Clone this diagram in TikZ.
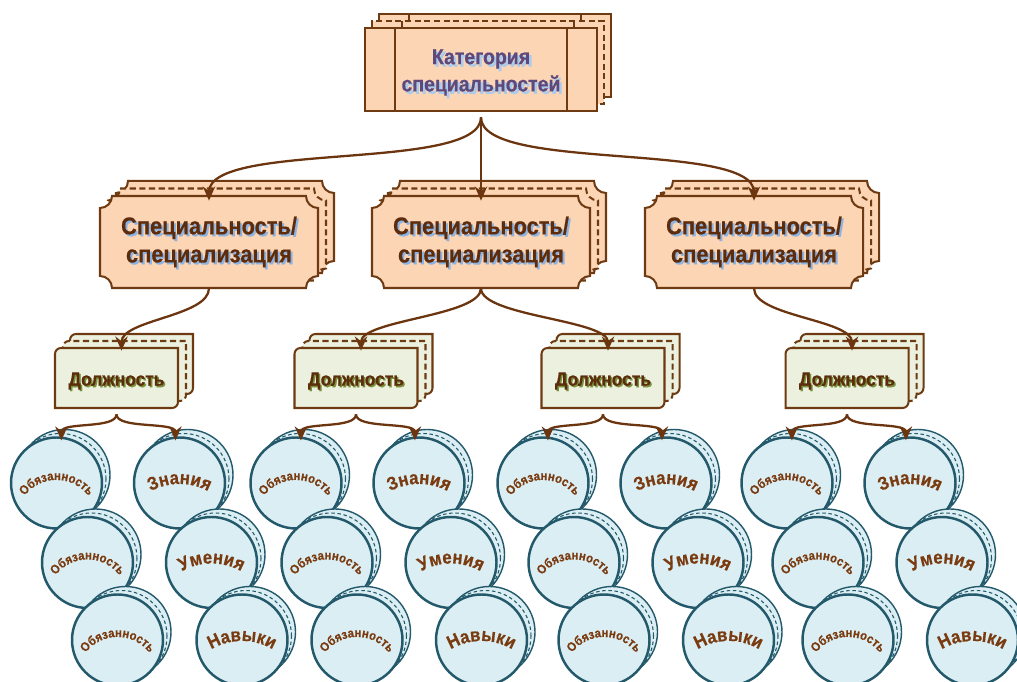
\documentclass[tikz,border=0pt]{standalone}
\usepackage{fontspec}
\setmainfont{Liberation Sans}
\newfontfamily\plaquefont[FakeStretch=0.9,FakeBold=0.4]{Liberation Sans}
\usetikzlibrary{arrows.meta,decorations.text}

\definecolor{rimbrown}{HTML}{6E3A12}
\definecolor{linkbrown}{HTML}{6B3510}
\definecolor{peach}{HTML}{FCD5B5}
\definecolor{sage}{HTML}{EBF1DE}
\definecolor{aqua}{HTML}{DAEEF3}
\definecolor{discrim}{HTML}{23596A}
\definecolor{inkbrown}{HTML}{5C2C0C}
\definecolor{shadeblue}{HTML}{8DB3E2}
\definecolor{inkpurple}{HTML}{5F497A}
\definecolor{shadecyan}{HTML}{A9CBEE}
\definecolor{shadegreen}{HTML}{77933C}
\definecolor{discink}{HTML}{7A3B10}

% category page: frame with two inner bars
\newcommand{\catpage}[3]{%
  \draw[#3] ({#1-116},{#2-41.5}) rectangle ({#1+116},{#2+41.5})
    ({#1-86},{#2-41.5}) -- ({#1-86},{#2+41.5})
    ({#1+86},{#2-41.5}) -- ({#1+86},{#2+41.5});}
% plaque with concave corners
\newcommand{\plaque}[3]{%
  \draw[#3] ({#1-97},{#2+46}) -- ({#1+97},{#2+46})
    arc[start angle=180,end angle=270,radius=12] -- ({#1+109},{#2-34})
    arc[start angle=90,end angle=180,radius=12] -- ({#1-97},{#2-46})
    arc[start angle=0,end angle=90,radius=12] -- ({#1-109},{#2+34})
    arc[start angle=270,end angle=360,radius=12] -- cycle;}
% card with two rounded corners
\newcommand{\jobcard}[3]{%
  \draw[#3] ({#1-61.5},{#2-30}) -- ({#1-61.5},{#2+24})
    arc[start angle=180,end angle=90,radius=6] -- ({#1+61.5},{#2+30})
    -- ({#1+61.5},{#2-24})
    arc[start angle=0,end angle=-90,radius=6] -- cycle;}
% the two pages behind a disc
\newcommand{\discback}[2]{%
  \draw[discrim,line width=0.8pt,fill=aqua] ({#1+8},{#2+8}) circle[radius=45.5];
  \draw[discrim,line width=0.6pt,fill=aqua,dash pattern=on 2pt off 1.5pt] ({#1+4},{#2+4}) circle[radius=45.5];}
% text bent over an arc
\newcommand{\arclabel}[5]{%
  \path[decorate,decoration={text along path,text align=center,text={#5}}]
    ({#1+#3*cos(90+#4)},{#2-#3+#3*sin(90+#4)}) arc[start angle={90+#4},end angle={90-#4},radius=#3];}
\newcommand{\dutyfont}{\plaquefont\bfseries\fontsize{7.2}{8}\selectfont\color{discink}}
\newcommand{\skillfont}{\plaquefont\bfseries\fontsize{10.6}{12}\selectfont\color{discink}}
\newcommand{\dutydisc}[3]{%
  \discback{#1}{#2}
  \node[disc] (#3) at ({#1},{#2}) {};
  \arclabel{#1}{#2+3}{40}{62}{|\dutyfont|Обязанность}}
\newcommand{\skilldisc}[4]{%
  \discback{#1}{#2}
  \node[disc] (#3) at ({#1},{#2}) {};
  \arclabel{#1}{#2-1}{60}{45}{|\skillfont|#4}}

\begin{document}
\begin{tikzpicture}[x=0.02cm,y=0.02cm]
  \tikzset{
    link/.style={draw=linkbrown,line width=1.3pt,-{Stealth[length=8pt,width=7pt]}},
    pageback/.style={draw=rimbrown,line width=1.15pt,fill=peach},
    pagedash/.style={pageback,dash pattern=on 3.5pt off 2pt},
    jobback/.style={draw=rimbrown,line width=1.15pt,fill=sage},
    jobdash/.style={jobback,dash pattern=on 3.5pt off 2pt},
    cattext/.style={align=center,inner sep=0pt,minimum width=4.64cm,minimum height=1.66cm,
      font=\plaquefont\bfseries\fontsize{12.3}{15.5}\selectfont},
    spectext/.style={align=center,inner sep=0pt,minimum width=4.36cm,minimum height=1.84cm,
      font=\plaquefont\bfseries\fontsize{13.8}{16}\selectfont},
    jobtext/.style={inner sep=0pt,minimum width=2.46cm,minimum height=1.2cm,
      font=\plaquefont\bfseries\fontsize{11}{12}\selectfont},
    disc/.style={circle,draw=discrim,line width=1.4pt,fill=aqua,minimum size=1.82cm,inner sep=0pt}
  }
  \useasboundingbox (0,0) rectangle (1017,682);
  \clip (0,0) rectangle (1017,682);

  % top: category
  \catpage{495}{626.5}{pageback}
  \catpage{488}{619.5}{pagedash}
  \catpage{481}{612.5}{pageback}
  \node[cattext,text=shadecyan] (cats) at (483.5,607) {Категория\\специальностей};
  \node[cattext,text=inkpurple] (cat) at (481,609.5) {Категория\\специальностей};

  % specialities
  \foreach \x/\n in {209/1,481/2,754/3}{
    \plaque{\x+16}{455}{pageback}
    \plaque{\x+8}{447.5}{pagedash}
    \plaque{\x}{440}{pageback}
    \node[spectext,text=shadeblue] (spec\n s) at (\x+2,438) {Специальность/\\специализация};
    \node[spectext,text=inkbrown] (spec\n) at (\x,440) {Специальность/\\специализация};
  }

  % posts
  \foreach \x/\n in {116.5/1,356/2,603/3,847/4}{
    \jobcard{\x+15}{318}{jobback}
    \jobcard{\x+8}{311}{jobdash}
    \jobcard{\x}{304}{jobback}
    \node[jobtext,text=shadegreen] (job\n s) at (\x+1.5,299.5) {Должность};
    \node[jobtext,text=inkbrown] (job\n) at (\x,301) {Должность};
  }

  % discs under every post
  \foreach \c/\g in {116.5/1,356/2,603/3,847/4}{
    \dutydisc{\c-60}{199}{duty\g}
    \dutydisc{\c-29}{119.5}{duty\g b}
    \dutydisc{\c+1}{42}{duty\g c}
    \skilldisc{\c+63}{199}{know\g}{Знания}
    \skilldisc{\c+95}{119.5}{skill\g}{Умения}
    \skilldisc{\c+125.5}{42}{habit\g}{Навыки}
  }

  % connectors
  \draw[link,shorten >=-0.1cm] ([yshift=-0.06cm]cat.south) .. controls +(0,-55) and +(0,55) .. (spec1.north);
  \draw[link,shorten >=-0.1cm] ([yshift=-0.06cm]cat.south) -- (spec2.north);
  \draw[link,shorten >=-0.1cm] ([yshift=-0.06cm]cat.south) .. controls +(0,-55) and +(0,55) .. (spec3.north);

  \draw[link,shorten >=-0.06cm] (spec1.south) .. controls +(0,-28) and +(0,28) .. ([xshift=0.1cm,yshift=0.06cm]job1.north);
  \draw[link,shorten >=-0.06cm] (spec2.south) .. controls +(0,-28) and +(0,28) .. ([xshift=0.1cm,yshift=0.06cm]job2.north);
  \draw[link,shorten >=-0.06cm] (spec2.south) .. controls +(0,-28) and +(0,28) .. ([xshift=0.1cm,yshift=0.06cm]job3.north);
  \draw[link,shorten >=-0.06cm] (spec3.south) .. controls +(0,-28) and +(0,28) .. ([xshift=0.1cm,yshift=0.06cm]job4.north);

  \foreach \g in {1,2,3,4}{
    \draw[link,shorten >=-0.08cm] ([yshift=-0.06cm]job\g.south) .. controls +(0,-15) and +(0,15) .. (duty\g.84);
    \draw[link,shorten >=-0.08cm] ([yshift=-0.06cm]job\g.south) .. controls +(0,-15) and +(0,15) .. (know\g.95);
  }
\end{tikzpicture}
\end{document}
